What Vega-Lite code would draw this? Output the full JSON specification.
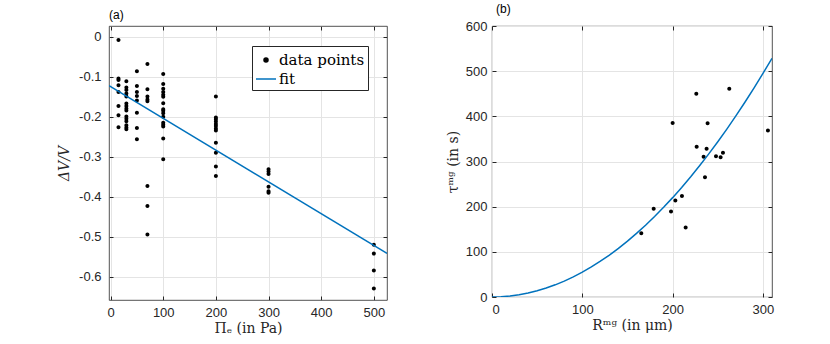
{
  "$schema": "https://vega.github.io/schema/vega-lite/v6.json",
  "background": "white",
  "padding": {"left": 57, "top": 2, "right": 0, "bottom": 0},
  "config": {
    "view": {"stroke": "#262626", "strokeWidth": 0.8},
    "axis": {
      "labelFont": "Liberation Sans", "labelFontSize": 13, "labelColor": "#262626",
      "titleFont": "DejaVu Serif", "titleFontSize": 14, "titleFontWeight": "normal", "titleColor": "#262626",
      "gridColor": "#e4e4e4", "domain": false, "tickColor": "#262626", "tickSize": -4, "labelPadding": 10
    },
    "axisX": {"titlePadding": 2},
    "title": {"font": "Liberation Sans", "fontSize": 12, "fontWeight": "normal", "anchor": "start", "frame": "group", "color": "#000000", "offset": 0},
    "concat": {"spacing": 57}
  },
  "datasets": {
    "dv": [
      {"p": 15, "dv": -0.008, "series": "data points"},
      {"p": 15, "dv": -0.104, "series": "data points"},
      {"p": 15, "dv": -0.108, "series": "data points"},
      {"p": 15, "dv": -0.121, "series": "data points"},
      {"p": 15, "dv": -0.138, "series": "data points"},
      {"p": 15, "dv": -0.173, "series": "data points"},
      {"p": 15, "dv": -0.196, "series": "data points"},
      {"p": 15, "dv": -0.226, "series": "data points"},
      {"p": 30, "dv": -0.111, "series": "data points"},
      {"p": 30, "dv": -0.127, "series": "data points"},
      {"p": 30, "dv": -0.133, "series": "data points"},
      {"p": 30, "dv": -0.142, "series": "data points"},
      {"p": 30, "dv": -0.149, "series": "data points"},
      {"p": 30, "dv": -0.167, "series": "data points"},
      {"p": 30, "dv": -0.173, "series": "data points"},
      {"p": 30, "dv": -0.179, "series": "data points"},
      {"p": 30, "dv": -0.184, "series": "data points"},
      {"p": 30, "dv": -0.199, "series": "data points"},
      {"p": 30, "dv": -0.205, "series": "data points"},
      {"p": 30, "dv": -0.211, "series": "data points"},
      {"p": 30, "dv": -0.221, "series": "data points"},
      {"p": 30, "dv": -0.227, "series": "data points"},
      {"p": 30, "dv": -0.231, "series": "data points"},
      {"p": 50, "dv": -0.086, "series": "data points"},
      {"p": 50, "dv": -0.123, "series": "data points"},
      {"p": 50, "dv": -0.138, "series": "data points"},
      {"p": 50, "dv": -0.148, "series": "data points"},
      {"p": 50, "dv": -0.159, "series": "data points"},
      {"p": 50, "dv": -0.190, "series": "data points"},
      {"p": 50, "dv": -0.228, "series": "data points"},
      {"p": 50, "dv": -0.256, "series": "data points"},
      {"p": 70, "dv": -0.068, "series": "data points"},
      {"p": 70, "dv": -0.131, "series": "data points"},
      {"p": 70, "dv": -0.149, "series": "data points"},
      {"p": 70, "dv": -0.157, "series": "data points"},
      {"p": 70, "dv": -0.161, "series": "data points"},
      {"p": 70, "dv": -0.373, "series": "data points"},
      {"p": 70, "dv": -0.423, "series": "data points"},
      {"p": 70, "dv": -0.494, "series": "data points"},
      {"p": 100, "dv": -0.093, "series": "data points"},
      {"p": 100, "dv": -0.118, "series": "data points"},
      {"p": 100, "dv": -0.130, "series": "data points"},
      {"p": 100, "dv": -0.138, "series": "data points"},
      {"p": 100, "dv": -0.145, "series": "data points"},
      {"p": 100, "dv": -0.150, "series": "data points"},
      {"p": 100, "dv": -0.166, "series": "data points"},
      {"p": 100, "dv": -0.181, "series": "data points"},
      {"p": 100, "dv": -0.185, "series": "data points"},
      {"p": 100, "dv": -0.191, "series": "data points"},
      {"p": 100, "dv": -0.200, "series": "data points"},
      {"p": 100, "dv": -0.215, "series": "data points"},
      {"p": 100, "dv": -0.220, "series": "data points"},
      {"p": 100, "dv": -0.224, "series": "data points"},
      {"p": 100, "dv": -0.254, "series": "data points"},
      {"p": 100, "dv": -0.306, "series": "data points"},
      {"p": 200, "dv": -0.149, "series": "data points"},
      {"p": 200, "dv": -0.202, "series": "data points"},
      {"p": 200, "dv": -0.206, "series": "data points"},
      {"p": 200, "dv": -0.212, "series": "data points"},
      {"p": 200, "dv": -0.218, "series": "data points"},
      {"p": 200, "dv": -0.223, "series": "data points"},
      {"p": 200, "dv": -0.229, "series": "data points"},
      {"p": 200, "dv": -0.234, "series": "data points"},
      {"p": 200, "dv": -0.265, "series": "data points"},
      {"p": 200, "dv": -0.290, "series": "data points"},
      {"p": 200, "dv": -0.324, "series": "data points"},
      {"p": 200, "dv": -0.348, "series": "data points"},
      {"p": 300, "dv": -0.331, "series": "data points"},
      {"p": 300, "dv": -0.337, "series": "data points"},
      {"p": 300, "dv": -0.343, "series": "data points"},
      {"p": 300, "dv": -0.375, "series": "data points"},
      {"p": 300, "dv": -0.386, "series": "data points"},
      {"p": 300, "dv": -0.390, "series": "data points"},
      {"p": 500, "dv": -0.520, "series": "data points"},
      {"p": 500, "dv": -0.542, "series": "data points"},
      {"p": 500, "dv": -0.584, "series": "data points"},
      {"p": 500, "dv": -0.629, "series": "data points"}
    ],
    "fitA": [
      {"p": -3, "dv": -0.122, "series": "fit"},
      {"p": 525, "dv": -0.5415, "series": "fit"}
    ],
    "tau": [
      {"r": 165.3, "t": 141.3},
      {"r": 179.0, "t": 195.3},
      {"r": 198.2, "t": 189.4},
      {"r": 200.0, "t": 385.4},
      {"r": 203.0, "t": 213.8},
      {"r": 210.3, "t": 223.4},
      {"r": 214.4, "t": 153.9},
      {"r": 226.2, "t": 449.8},
      {"r": 226.6, "t": 332.9},
      {"r": 234.3, "t": 310.7},
      {"r": 235.8, "t": 264.9},
      {"r": 237.6, "t": 328.5},
      {"r": 238.7, "t": 384.7},
      {"r": 248.0, "t": 311.5},
      {"r": 253.1, "t": 309.2},
      {"r": 255.7, "t": 319.6},
      {"r": 262.7, "t": 460.9},
      {"r": 305.5, "t": 368.4}
    ],
    "fitB": [
      {"r": 0, "t": 0}, {"r": 10, "t": 0.55}, {"r": 20, "t": 2.2}, {"r": 30, "t": 4.95},
      {"r": 40, "t": 8.8}, {"r": 50, "t": 13.75}, {"r": 60, "t": 19.8}, {"r": 70, "t": 26.95},
      {"r": 80, "t": 35.2}, {"r": 90, "t": 44.55}, {"r": 100, "t": 55}, {"r": 110, "t": 66.55},
      {"r": 120, "t": 79.2}, {"r": 130, "t": 92.95}, {"r": 140, "t": 107.8}, {"r": 150, "t": 123.75},
      {"r": 160, "t": 140.8}, {"r": 170, "t": 158.95}, {"r": 180, "t": 178.2}, {"r": 190, "t": 198.55},
      {"r": 200, "t": 220}, {"r": 210, "t": 242.55}, {"r": 220, "t": 266.2}, {"r": 230, "t": 290.95},
      {"r": 240, "t": 316.8}, {"r": 250, "t": 343.75}, {"r": 260, "t": 371.8}, {"r": 270, "t": 400.95},
      {"r": 280, "t": 431.2}, {"r": 290, "t": 462.55}, {"r": 300, "t": 495}, {"r": 310, "t": 528.55}
    ]
  },
  "hconcat": [
    {
      "width": 278,
      "height": 274,
      "title": "(a)",
      "resolve": {"axis": {"x": "independent", "y": "independent"}},
      "layer": [
        {
          "data": {"name": "dv"},
          "mark": {"type": "point", "filled": true, "opacity": 1, "size": 400, "strokeWidth": 0},
          "encoding": {
            "x": {"field": "p", "type": "quantitative",
              "scale": {"domain": [-3, 525], "nice": false, "zero": false},
              "axis": {"values": [0, 100, 200, 300, 400, 500], "title": "Πₑ (in Pa)"}},
            "y": {"field": "dv", "type": "quantitative",
              "scale": {"domain": [-0.658, 0.027], "nice": false, "zero": false},
              "axis": {"values": [-0.6, -0.5, -0.4, -0.3, -0.2, -0.1, 0], "title": "ΔV/V", "titleFontStyle": "italic",
                "labelPadding": 12, "titlePadding": 7,
                "labelExpr": "datum.value < 0 ? '-' + format(-datum.value, '~g') : format(datum.value, '~g')"}},
            "color": {"field": "series", "type": "nominal",
              "scale": {"domain": ["data points", "fit"], "range": ["#000000", "#0072BD"]},
              "legend": {"orient": "none", "legendX": 143, "legendY": 20, "title": null,
                "labelFont": "DejaVu Serif", "labelFontSize": 15, "labelColor": "#000000",
                "symbolSize": 400, "strokeColor": "#262626", "fillColor": "white", "padding": 3,
                "rowPadding": 0, "labelOffset": 2, "symbolStrokeWidth": 1.5,
                "encode": {"symbols": {"update": {"stroke": {"scale": "color", "field": "value"}, "strokeWidth": {"signal": "datum.value === 'fit' ? 1.5 : 0"}}}}}},
            "shape": {"field": "series", "type": "nominal",
              "scale": {"domain": ["data points", "fit"], "range": ["M-0.2,0A0.2,0.2 0 1,0 0.2,0A0.2,0.2 0 1,0 -0.2,0Z", "M-1,0H1"]},
              "legend": {"orient": "none", "legendX": 143, "legendY": 20, "title": null,
                "labelFont": "DejaVu Serif", "labelFontSize": 15, "labelColor": "#000000",
                "symbolSize": 400, "strokeColor": "#262626", "fillColor": "white", "padding": 3,
                "rowPadding": 0, "labelOffset": 2, "symbolStrokeWidth": 1.5,
                "encode": {"symbols": {"update": {"stroke": {"scale": "color", "field": "value"}, "strokeWidth": {"signal": "datum.value === 'fit' ? 1.5 : 0"}}}}}}
          }
        },
        {
          "data": {"name": "fitA"},
          "mark": {"type": "line", "strokeWidth": 1.5, "clip": true},
          "encoding": {
            "x": {"field": "p", "type": "quantitative",
              "axis": {"orient": "top", "values": [0, 100, 200, 300, 400, 500], "labels": false, "grid": false, "title": null}},
            "y": {"field": "dv", "type": "quantitative",
              "axis": {"orient": "right", "values": [-0.6, -0.5, -0.4, -0.3, -0.2, -0.1, 0], "labels": false, "grid": false, "title": null}},
            "color": {"field": "series", "type": "nominal"}
          }
        }
      ]
    },
    {
      "width": 280,
      "height": 271,
      "title": {"text": "(b)", "dx": 4},
      "resolve": {"axis": {"x": "independent", "y": "independent"}},
      "layer": [
        {
          "data": {"name": "tau"},
          "mark": {"type": "point", "filled": true, "opacity": 1, "size": 400, "strokeWidth": 0, "color": "#000000",
            "shape": "M-0.2,0A0.2,0.2 0 1,0 0.2,0A0.2,0.2 0 1,0 -0.2,0Z"},
          "encoding": {
            "x": {"field": "r", "type": "quantitative",
              "scale": {"domain": [0, 310], "nice": false, "zero": false},
              "axis": {"values": [0, 100, 200, 300], "title": "Rᵐᵍ (in μm)"}},
            "y": {"field": "t", "type": "quantitative",
              "scale": {"domain": [0, 600], "nice": false, "zero": false},
              "axis": {"values": [0, 100, 200, 300, 400, 500, 600], "title": "τᵐᵍ (in s)", "labelPadding": 9, "titlePadding": 5}}
          }
        },
        {
          "data": {"name": "fitB"},
          "mark": {"type": "line", "strokeWidth": 1.5, "color": "#0072BD", "clip": true},
          "encoding": {
            "x": {"field": "r", "type": "quantitative",
              "axis": {"orient": "top", "values": [0, 100, 200, 300], "labels": false, "grid": false, "title": null}},
            "y": {"field": "t", "type": "quantitative",
              "axis": {"orient": "right", "values": [0, 100, 200, 300, 400, 500, 600], "labels": false, "grid": false, "title": null}}
          }
        }
      ]
    }
  ]
}
